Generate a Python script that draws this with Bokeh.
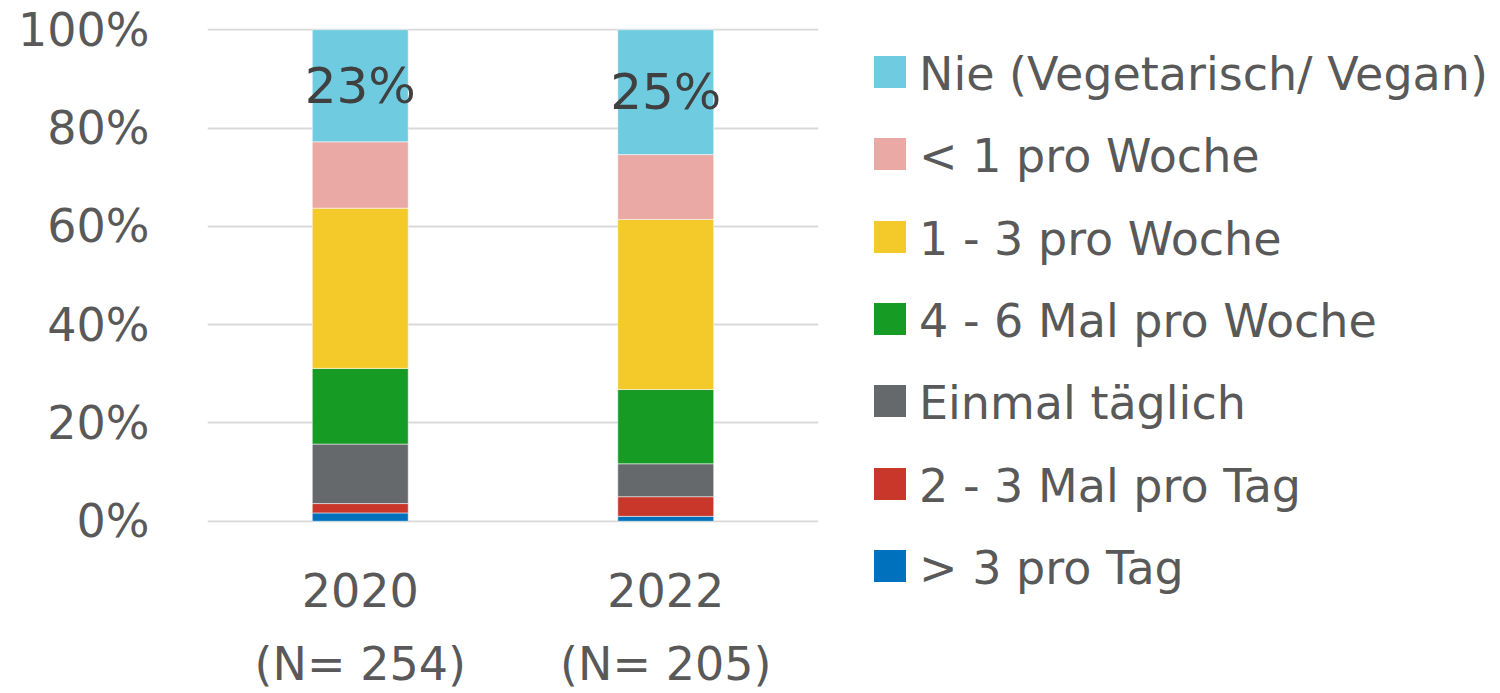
import html
from bokeh.plotting import figure
from bokeh.layouts import row
from bokeh.models import (FactorRange, Range1d, FixedTicker, PrintfTickFormatter,
                          CategoricalAxis, ColumnDataSource, CustomJSTickFormatter, Div)
from bokeh.core.properties import value
from bokeh.embed import file_html
from bokeh.resources import INLINE

# ---- data ----
years = ["2020", "2022"]
n_labels = ["(N= 254)", "(N= 205)"]

# stacking order: bottom -> top
categories = ["> 3 pro Tag", "2 - 3 Mal pro Tag", "Einmal täglich",
              "4 - 6 Mal pro Woche", "1 - 3 pro Woche", "< 1 pro Woche",
              "Nie (Vegetarisch/ Vegan)"]
gt3_pro_tag = [1.7, 1.0]
mal_2_3_pro_tag = [1.9, 4.0]
einmal_taeglich = [12.1, 6.7]
mal_4_6_pro_woche = [15.4, 15.1]
pro_woche_1_3 = [32.6, 34.6]
lt1_pro_woche = [13.5, 13.2]
nie = [22.8, 25.4]

colors = ["#0072BD", "#C9372A", "#66696C", "#169B25", "#F4CA2B", "#EBA9A5", "#6FCBE0"]

y_ticks = [0, 20, 40, 60, 80, 100]

FONT = "DejaVu Sans"
TXT = "#595959"

series = [gt3_pro_tag, mal_2_3_pro_tag, einmal_taeglich, mal_4_6_pro_woche,
          pro_woche_1_3, lt1_pro_woche, nie]
data = {"year": years}
for c, s in zip(categories, series):
    data[c] = s
source = ColumnDataSource(data)

# ---------------- main chart ----------------
p = figure(x_range=FactorRange(*years), y_range=Range1d(-0.25, 100.25),
           width=830, height=693, output_backend="svg", toolbar_location=None,
           min_border_left=207, min_border_right=12, min_border_top=28,
           min_border_bottom=167)
p.x_range.range_padding = 0
p.outline_line_color = None

renderers = p.vbar_stack(categories, x="year", width=0.314, color=colors,
                         source=source, line_color="white", line_alpha=0.5,
                         line_width=1)

# y axis
yax = p.yaxis[0]
yax.ticker = FixedTicker(ticks=y_ticks)
yax.formatter = PrintfTickFormatter(format="%d%%")
yax.axis_line_color = None
yax.major_tick_line_color = None
yax.minor_tick_line_color = None
yax.major_tick_out = 0
yax.major_label_standoff = 58
yax.major_label_text_font = FONT
yax.major_label_text_font_size = "46px"
yax.major_label_text_color = TXT

p.ygrid.ticker = FixedTicker(ticks=y_ticks)
p.ygrid.grid_line_color = "#D9D9D9"
p.ygrid.grid_line_width = 2
p.xgrid.visible = False

# x axes (two lines of labels)
xax = p.xaxis[0]
xax2 = CategoricalAxis()
p.add_layout(xax2, "below")
xax2.formatter = CustomJSTickFormatter(args=dict(names=dict(zip(years, n_labels))),
                                       code="return names[tick] || tick;")
for ax, so in ((xax, 50), (xax2, 27)):
    ax.axis_line_color = None
    ax.major_tick_line_color = None
    ax.minor_tick_line_color = None
    ax.major_tick_out = 0
    ax.major_tick_in = 0
    ax.major_label_standoff = so
    ax.major_label_text_font = FONT
    ax.major_label_text_font_size = "46px"
    ax.major_label_text_color = TXT

# data labels on top segment
label_y = [100 - v / 2 for v in nie]
label_txt = [f"{round(v)}%" for v in nie]
p.text(x=years, y=label_y, text=label_txt, text_align="center",
       text_baseline="middle", text_font=value(FONT), text_font_size="50px",
       text_color="#404040")

# ---------------- legend (HTML key beside the chart) ----------------
parts = []
for i, (lab, col) in enumerate(zip(categories[::-1], colors[::-1])):
    top = round(56 + i * 82.3)
    parts.append(
        f'<div style="position:absolute;left:44px;top:{top}px;width:32px;height:32px;'
        f'background:{col};"></div>'
        f'<div style="position:absolute;left:89px;top:{top + 2}px;height:32px;'
        f'line-height:32px;white-space:nowrap;">{html.escape(lab)}</div>')
legend_html = (f'<div style="position:relative;width:670px;height:693px;'
               f'font-family:\'{FONT}\';font-size:46px;color:{TXT};">'
               + "".join(parts) + '</div>')
key = Div(text=legend_html, width=670, height=693, margin=0)

layout = row(p, key)
open("out.html", "w").write(file_html(layout, INLINE))
